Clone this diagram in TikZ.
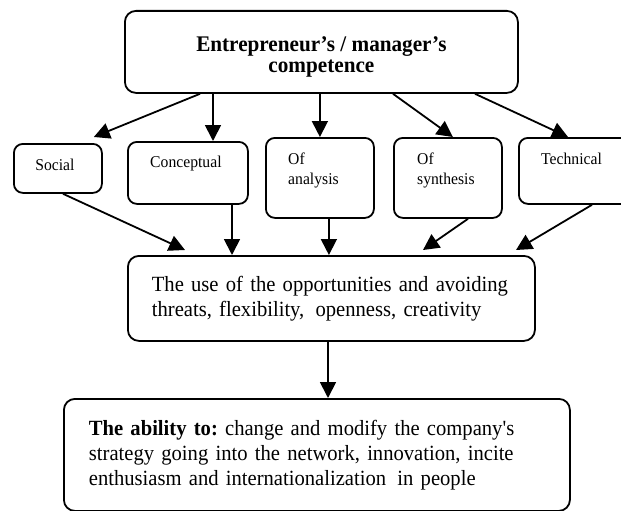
\documentclass[tikz,border=0pt]{standalone}
\usepackage{fontspec}
\setmainfont{Liberation Serif}[FakeStretch=0.95]
\usetikzlibrary{arrows.meta,calc}

\tikzset{
  frame/.style={draw, line width=1.8pt, rounded corners=11pt, inner sep=0pt, anchor=north west},
  smallframe/.style={frame, rounded corners=9pt},
  bigtext/.style={font=\fontsize{21.7}{25}\selectfont},
  smalltext/.style={inner sep=0pt, align=left, font=\fontsize{16.5}{20}\selectfont},
  arr/.style={line width=1.8pt, -{Triangle[length=16pt,width=16pt]}}
}

\begin{document}
\frenchspacing
\begin{tikzpicture}[x=1pt,y=-1pt]
\useasboundingbox (0,0) rectangle (621,511);

% top box and its heading
\node[frame, minimum width=393pt, minimum height=82pt] (top) at (124,10) {};
\node[inner sep=0pt, align=center, anchor=north,
      font=\fontsize{22.3}{21}\selectfont\bfseries] (toptxt) at ($(top.north)+(0,26)$)
  {Entrepreneur’s / manager’s\\competence};

% the five kinds of competence
\node[smallframe, minimum width=88pt,  minimum height=49pt] (soc)  at (13,143) {};
\node[smallframe, minimum width=120pt, minimum height=62pt] (conc) at (127,141) {};
\node[smallframe, minimum width=108pt, minimum height=80pt] (ana)  at (265,137) {};
\node[smallframe, minimum width=108pt, minimum height=80pt] (syn)  at (393,137) {};
\node[smallframe, minimum width=112pt, minimum height=66pt] (tech) at (518,137) {};

\node[smalltext, anchor=base] at ($(soc.north)+(-3,27)$) {Social};
\node[smalltext, anchor=base] at ($(conc.north)+(-2,26)$) {Conceptual};
\node[smalltext, anchor=north west] at ($(ana.north west)+(23,16)$) {Of\\analysis};
\node[smalltext, anchor=north west] at ($(syn.north west)+(24,16)$) {Of\\synthesis};
\node[smalltext, anchor=base west] at ($(tech.north west)+(23,27)$) {Technical};

% middle box
\node[frame, minimum width=407pt, minimum height=85pt, bigtext,
      text width=359pt, inner xsep=24pt, align=left] (mid) at (127,255)
  {\mbox{The use of the opportunities and avoiding}\\
   \mbox{threats, flexibility,\hspace{4pt} openness, creativity}};

% bottom box
\node[frame, minimum width=506pt, minimum height=112pt, bigtext,
      text width=456pt, inner xsep=25pt, align=left] (bot) at (63,398)
  {\mbox{\textbf{The ability to:} change and modify the company\textquotesingle s}\\
   \mbox{strategy going into the network, innovation, incite}\\
   \mbox{enthusiasm and internationalization\hspace{4pt} in people}};

% from the competence box to its kinds
\draw[arr] ($(top.south west)+(76,0)$) -- ($(soc.north east)+(-9,-6)$);
\draw[arr] ($(top.south west)+(89,0)$) -- ($(conc.north west)+(86,0)$);
\draw[arr] (top.south -| ana.north) -- (ana.north);
\draw[arr] ($(top.south west)+(269,0)$) -- ($(syn.north)+(5,0)$);
\draw[arr] ($(top.south west)+(351,0)$) -- ($(tech.north west)+(50,0)$);

% from the kinds to the middle box
\draw[arr] ($(soc.south west)+(50,0)$) -- ($(mid.north west)+(58,-5)$);
\draw[arr] ($(conc.south west)+(105,0)$) coordinate (cfoot) -- (cfoot |- mid.north);
\draw[arr] ($(ana.south)+(9,0)$) coordinate (afoot) -- (afoot |- mid.north);
\draw[arr] ($(syn.south west)+(75,0)$) -- ($(mid.north west)+(296,-5)$);
\draw[arr] ($(tech.south west)+(74,0)$) -- ($(mid.north west)+(389,-5)$);

% from the middle box to the bottom box
\draw[arr] ($(mid.south west)+(201,0)$) coordinate (mfoot) -- (mfoot |- bot.north);
\end{tikzpicture}
\end{document}
